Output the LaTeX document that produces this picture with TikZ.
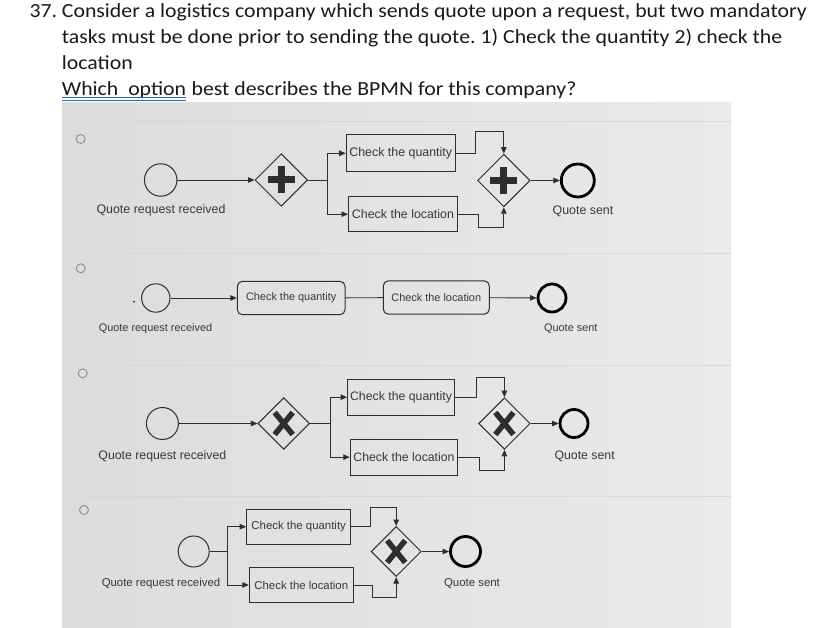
\documentclass[tikz,border=0pt]{standalone}
\usepackage{fontspec}
\setmainfont{Carlito}[FakeStretch=1.09]
\newfontfamily\diagfont{Liberation Sans}
\usepackage{tikz}
\usetikzlibrary{arrows.meta,positioning,shapes.geometric,calc}
\frenchspacing

\definecolor{qtextc}{HTML}{1A1A1A}
\definecolor{ink}{HTML}{2E2E2E}
\definecolor{lblc}{HTML}{383838}
\definecolor{radioc}{HTML}{8C8C8C}
\definecolor{sepc}{HTML}{D6D8D5}
\definecolor{ulc}{HTML}{2A62D0}
\definecolor{photoa}{HTML}{DCDDDA}
\definecolor{photob}{HTML}{F0F2EE}
\definecolor{photoc}{HTML}{E8EBE8}

\newcommand{\qfont}{\fontsize{20}{26}\selectfont}
\newcommand{\dfont}[1]{\diagfont\fontsize{#1}{#1}\selectfont}
\newcommand{\gplus}[1]{%
  \draw[plusbar] ([xshift=-13.5pt]#1.center) -- ([xshift=13.5pt]#1.center)
                 ([yshift=-13.5pt]#1.center) -- ([yshift=13.5pt]#1.center);}
\newcommand{\gcross}[1]{%
  \draw[xbar] ([shift={(-9pt,-11pt)}]#1.center) -- ([shift={(9pt,11pt)}]#1.center)
              ([shift={(-9pt,11pt)}]#1.center) -- ([shift={(9pt,-11pt)}]#1.center);}

\tikzset{
  qline/.style  ={anchor=base west, inner sep=0pt, font=\qfont, text=qtextc},
  radio/.style  ={circle, draw=radioc, line width=0.9pt, minimum size=9pt, inner sep=0pt},
  optsep/.style ={sepc, line width=0.8pt},
  startev/.style={circle, draw=ink, line width=1pt, inner sep=0pt},
  endev/.style  ={circle, draw=black, line width=2.8pt, inner sep=0pt},
  gate/.style   ={diamond, aspect=1, draw=ink, line width=1pt, inner sep=0pt},
  task/.style   ={rectangle, draw=ink, line width=1pt, inner sep=1pt, text=lblc},
  rtask/.style  ={task, rounded corners=5pt},
  lbl/.style    ={inner sep=0pt, text=lblc},
  flow/.style   ={-{Triangle[length=6.5pt,width=5.5pt]}, ink, line width=0.9pt},
  seq/.style    ={ink, line width=0.9pt},
  plusbar/.style={ink, line width=7pt},
  xbar/.style   ={ink, line width=5.5pt},
}

\begin{document}
\begin{tikzpicture}[x=1pt, y=-1pt]

\fill[white] (0,0) rectangle (838,628);
\useasboundingbox (0,0) rectangle (838,628);

% question
\node[qline] (num) at (29.3,17.3) {37.};
\node[qline] (q1) at (61.7,17.3) {Consider a logistics company which sends quote upon a request, but two mandatory};
\node[qline] (q2) at (61.7,43.3) {tasks must be done prior to sending the quote. 1) Check the quantity 2) check the};
\node[qline] (q3) at (61.7,70) {location};
\node[qline] (q4a) at (61.7,96) {Which\ \ option};
\node[qline] (q4b) at (q4a.base east) {\ best describes the BPMN for this company?};
\draw[ulc, line width=0.9pt] ([yshift=-1.7pt]q4a.base west) -- ([yshift=-1.7pt]q4a.base east)
                             ([yshift=-4.7pt]q4a.base west) -- ([yshift=-4.7pt]q4a.base east);

% photo of the options
\shade[left color=photoa, middle color=photob, right color=photoc] (62,103) rectangle (731,628);
\foreach \y in {121.7,253.3,365,496.7}
  \draw[optsep] (62,\y) -- (731,\y);

\node[radio] (r1) at (80.7,139) {};
\node[radio] (r2) at (80.7,268.3) {};
\node[radio] (r3) at (82.7,373.3) {};
\node[radio] (r4) at (84,510) {};

% option 1: parallel gateways
\begin{scope}[every node/.append style={font=\dfont{12.4}}]
\node[startev, minimum size=32.5pt] (s1) at (160.7,180) {};
\node[gate, minimum size=52.5pt] (g1) at (281.3,180) {};
\coordinate (sp1) at (327.3,180);
\node[task, minimum width=109pt, minimum height=36.7pt] (t1) at (400.7,153.3) {Check the quantity};
\node[task, minimum width=109pt, minimum height=35pt] (t2) at (403,214.2) {Check the location};
\node[gate, minimum size=52.5pt] (g2) at (503.8,180.5) {};
\node[endev, minimum size=33pt] (e1) at (577.8,180.5) {};
\node[lbl] (l1s) at (161,210.7) {Quote request received};
\node[lbl] (l1e) at (583,211.3) {Quote sent};
\gplus{g1}
\gplus{g2}

\draw[flow] (s1) -- (g1);
\draw[seq] (g1.east) -- (sp1);
\draw[flow] (sp1) |- (t1.west);
\draw[flow] (sp1) |- (t2.west);
\draw[flow] (t1.east) -- ++(20,0) |- ([yshift=22pt]g2.north) -- (g2.north);
\draw[flow] (t2.east) -- ++(20,0) |- ([yshift=-20pt]g2.south) -- (g2.south);
\draw[flow] (g2) -- (e1);
\end{scope}

% option 2: sequence
\begin{scope}[every node/.append style={font=\dfont{10.9}}]
\fill[ink] (134,301.7) circle (1pt);
\node[startev, minimum size=28.4pt] (s2) at (155.8,298) {};
\node[rtask, minimum width=107.7pt, minimum height=33.3pt] (t3) at (291.2,298) {Check the quantity};
\node[rtask, minimum width=106pt, minimum height=33.3pt] (t4) at (436.3,297.5) {Check the location};
\node[endev, minimum size=28pt] (e2) at (552,298) {};
\node[lbl] (l2s) at (155.5,328.3) {Quote request received};
\node[lbl] (l2e) at (570.8,328.3) {Quote sent};

\draw[flow] (s2) -- (t3);
\draw[seq] (t3) -- (t4);
\draw[flow] (t4) -- (e2);
\end{scope}

% option 3: exclusive gateways
\begin{scope}[every node/.append style={font=\dfont{12.3}}]
\node[startev, minimum size=32pt] (s3) at (162.4,423.5) {};
\node[gate, minimum size=51.6pt] (g3) at (283.7,423.5) {};
\coordinate (sp3) at (330,423.5);
\node[task, minimum width=106.8pt, minimum height=35.7pt] (t5) at (401,397.2) {Check the quantity};
\node[task, minimum width=107.5pt, minimum height=35.7pt] (t6) at (404,457.2) {Check the location};
\node[gate, minimum size=51.6pt] (g4) at (504.4,423.5) {};
\node[endev, minimum size=28pt] (e3) at (574,423.5) {};
\node[lbl] (l3s) at (162.4,456) {Quote request received};
\node[lbl] (l3e) at (584.6,456) {Quote sent};
\gcross{g3}
\gcross{g4}

\draw[flow] (s3) -- (g3);
\draw[seq] (g3.east) -- (sp3);
\draw[flow] (sp3) |- (t5.west);
\draw[flow] (sp3) |- (t6.west);
\draw[flow] (t5.east) -- ++(21.4,0) |- ([yshift=19.4pt]g4.north) -- (g4.north);
\draw[flow] (t6.east) -- ++(21.4,0) |- ([yshift=-20.7pt]g4.south) -- (g4.south);
\draw[flow] (g4) -- (e3);
\end{scope}

% option 4: split without gateway
\begin{scope}[every node/.append style={font=\dfont{11.4}}]
\node[startev, minimum size=31pt] (s4) at (193.7,551.5) {};
\coordinate (sp4) at (227.3,551.5);
\node[task, minimum width=104pt, minimum height=35.3pt] (t7) at (298.7,526.7) {Check the quantity};
\node[task, minimum width=104pt, minimum height=34.7pt] (t8) at (301.3,585) {Check the location};
\node[gate, minimum size=50pt] (g5) at (396.2,551.5) {};
\node[endev, minimum size=30pt] (e4) at (465.5,551.5) {};
\node[lbl] (l4s) at (161,583.3) {Quote request received};
\node[lbl] (l4e) at (472,583.3) {Quote sent};
\gcross{g5}

\draw[seq] (s4) -- (sp4);
\draw[flow] (sp4) |- (t7.west);
\draw[flow] (sp4) |- (t8.west);
\draw[flow] (t7.east) -- ++(19.3,0) |- ([yshift=18.2pt]g5.north) -- (g5.north);
\draw[flow] (t8.east) -- ++(19,0) |- ([yshift=-20.2pt]g5.south) -- (g5.south);
\draw[flow] (g5) -- (e4);
\end{scope}

\end{tikzpicture}
\end{document}
